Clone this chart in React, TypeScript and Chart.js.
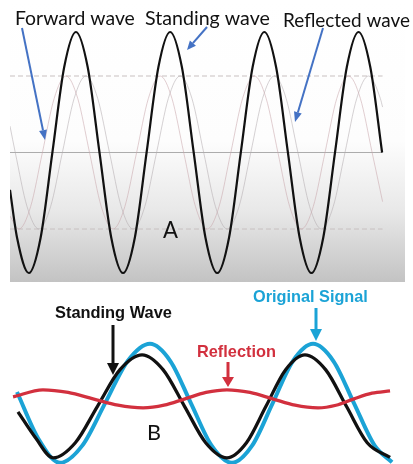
import React, { useEffect, useRef } from "react";
import { Chart, registerables } from "chart.js";
Chart.register(...registerables);

// ---------- Panel A data (x in wavelengths, y in standing-wave amplitudes) ----------
const standingAX = [0, 0.075, 0.2, 0.325, 0.45, 0.575, 0.7, 0.825, 0.95, 1.075, 1.2, 1.325, 1.45, 1.575, 1.7, 1.825, 1.95, 2.075, 2.2, 2.325, 2.45, 2.575, 2.7, 2.825, 2.95, 3.075, 3.2, 3.325, 3.45, 3.575, 3.7, 3.825, 3.95];
const standingAY = [-0.31, -0.707, -1, -0.707, 0, 0.707, 1, 0.707, 0, -0.707, -1, -0.707, 0, 0.707, 1, 0.707, 0, -0.707, -1, -0.707, 0, 0.707, 1, 0.707, 0, -0.707, -1, -0.707, 0, 0.707, 1, 0.707, 0];

const forwardX = [0, 0.094, 0.219, 0.344, 0.469, 0.594, 0.719, 0.844, 0.969, 1.094, 1.219, 1.344, 1.469, 1.594, 1.719, 1.844, 1.969, 2.094, 2.219, 2.344, 2.469, 2.594, 2.719, 2.844, 2.969, 3.094, 3.219, 3.344, 3.469, 3.594, 3.719, 3.844, 3.955];
const forwardY = [-0.528, -0.635, -0.449, 0, 0.449, 0.635, 0.449, 0, -0.449, -0.635, -0.449, 0, 0.449, 0.635, 0.449, 0, -0.449, -0.635, -0.449, 0, 0.449, 0.635, 0.449, 0, -0.449, -0.635, -0.449, 0, 0.449, 0.635, 0.449, 0, -0.408];

const reflectedX = [0, 0.056, 0.181, 0.306, 0.431, 0.556, 0.681, 0.806, 0.931, 1.056, 1.181, 1.306, 1.431, 1.556, 1.681, 1.806, 1.931, 2.056, 2.181, 2.306, 2.431, 2.556, 2.681, 2.806, 2.931, 3.056, 3.181, 3.306, 3.431, 3.556, 3.681, 3.806, 3.931, 3.955];
const reflectedY = [0.219, 0, -0.449, -0.635, -0.449, 0, 0.449, 0.635, 0.449, 0, -0.449, -0.635, -0.449, 0, 0.449, 0.635, 0.449, 0, -0.449, -0.635, -0.449, 0, 0.449, 0.635, 0.449, 0, -0.449, -0.635, -0.449, 0, 0.449, 0.635, 0.449, 0.377];

const refLevelsA = [0.635, 0, -0.635];
const refSpanA = [0, 3.955];

// ---------- Panel B data (x in ms, y in original-signal amplitudes) ----------
const originalX = [1.03, 2.33, 3.63, 4.99, 6.36, 7.72, 9.08, 10.32, 11.56, 12.8, 14.04, 15.27, 16.5, 17.72, 18.95, 20.19, 21.43, 22.67, 23.73];
const originalY = [0.19, -0.6, -1, -0.707, 0, 0.707, 1, 0.707, 0, -0.707, -1, -0.707, 0, 0.707, 1, 0.707, 0, -0.707, -0.99];

const standingBX = [1.09, 2.15, 3.21, 4.56, 5.9, 7.25, 8.6, 9.88, 11.17, 12.45, 13.74, 14.92, 16.1, 17.28, 18.46, 19.72, 20.97, 22.23, 23.61];
const standingBY = [-0.143, -0.58, -0.916, -0.662, -0.05, 0.562, 0.815, 0.562, -0.05, -0.662, -0.916, -0.662, -0.05, 0.562, 0.815, 0.562, -0.05, -0.662, -0.91];

const reflectionX = [0.79, 2.6, 4.12, 5.63, 7.14, 8.66, 9.93, 11.2, 12.47, 13.74, 15.13, 16.5, 17.86, 19.25, 20.34, 21.43, 22.52, 23.61];
const reflectionY = [0.109, 0.227, 0.183, 0.076, -0.032, -0.076, -0.032, 0.076, 0.183, 0.227, 0.183, 0.076, -0.032, -0.076, -0.032, 0.076, 0.17, 0.21];

const labelsA = ["Forward wave", "Standing wave", "Reflected wave", "A"];
const labelsB = ["Standing Wave", "Original Signal", "Reflection", "B"];

// ---------- helpers ----------
const pts = (xs: number[], ys: number[]) => xs.map((x, i) => ({ x, y: ys[i] }));

function fitText(ctx: CanvasRenderingContext2D, text: string, left: number, baseline: number, width: number, weight: string, family: string, color: string) {
  ctx.save();
  ctx.font = `${weight} 20px ${family}`;
  const w = ctx.measureText(text).width;
  const size = (20 * width) / w;
  ctx.font = `${weight} ${size}px ${family}`;
  ctx.fillStyle = color;
  ctx.textAlign = "left";
  ctx.textBaseline = "alphabetic";
  ctx.fillText(text, left, baseline);
  ctx.restore();
}

function arrow(ctx: CanvasRenderingContext2D, x1: number, y1: number, x2: number, y2: number, color: string, lw: number, headLen: number, headW: number) {
  const a = Math.atan2(y2 - y1, x2 - x1);
  const bx = x2 - headLen * Math.cos(a);
  const by = y2 - headLen * Math.sin(a);
  ctx.save();
  ctx.strokeStyle = color;
  ctx.fillStyle = color;
  ctx.lineWidth = lw;
  ctx.beginPath();
  ctx.moveTo(x1, y1);
  ctx.lineTo(bx, by);
  ctx.stroke();
  const px = -Math.sin(a) * headW / 2;
  const py = Math.cos(a) * headW / 2;
  ctx.beginPath();
  ctx.moveTo(x2, y2);
  ctx.lineTo(bx + px, by + py);
  ctx.lineTo(bx - px, by - py);
  ctx.closePath();
  ctx.fill();
  ctx.restore();
}

const BLUE = "#4472C4";
const CYAN = "#1BA3D6";
const RED = "#D2303E";

const panelAPlugin = {
  id: "panelA",
  beforeDraw(chart: any) {
    const { ctx, chartArea: ca } = chart;
    const g = ctx.createLinearGradient(0, ca.top, 0, ca.bottom);
    g.addColorStop(0, "#ffffff");
    g.addColorStop(0.5, "#fdfdfd");
    g.addColorStop(0.75, "#e8e8e8");
    g.addColorStop(1, "#c3c3c3");
    ctx.save();
    ctx.fillStyle = g;
    ctx.fillRect(ca.left, ca.top, ca.right - ca.left, ca.bottom - ca.top);
    ctx.restore();
  },
  afterDraw(chart: any) {
    const ctx = chart.ctx as CanvasRenderingContext2D;
    const fam = "Lato, 'Open Sans', sans-serif";
    fitText(ctx, labelsA[0], 15, 25, 120, "normal", fam, "#111");
    fitText(ctx, labelsA[1], 145, 25, 125, "normal", fam, "#111");
    fitText(ctx, labelsA[2], 283, 27, 127, "normal", fam, "#111");
    fitText(ctx, labelsA[3], 163, 238, 15, "normal", fam, "#111");
    arrow(ctx, 22, 28, 45, 140, BLUE, 2, 10, 8);
    arrow(ctx, 207, 27, 187, 50, BLUE, 2, 9, 8);
    arrow(ctx, 323, 28, 295, 122, BLUE, 2, 10, 8);
  },
};

const panelBPlugin = {
  id: "panelB",
  afterDraw(chart: any) {
    const ctx = chart.ctx as CanvasRenderingContext2D;
    const fam = "'Liberation Sans', Arial, sans-serif";
    fitText(ctx, labelsB[0], 55, 36, 117, "bold", fam, "#111");
    fitText(ctx, labelsB[1], 253, 20, 115, "bold", fam, CYAN);
    fitText(ctx, labelsB[2], 197, 75, 79, "bold", fam, RED);
    fitText(ctx, labelsB[3], 147, 158, 14, "normal", "Lato, sans-serif", "#111");
    arrow(ctx, 113, 43, 113, 93, "#111", 3, 12, 12);
    arrow(ctx, 316, 26, 316, 59, CYAN, 3, 12, 12);
    arrow(ctx, 228, 80, 228, 105, RED, 3, 10, 12);
  },
};

export default function App() {
  const aRef = useRef<HTMLCanvasElement>(null);
  const bRef = useRef<HTMLCanvasElement>(null);

  useEffect(() => {
    const refSets = refLevelsA.map((lv) => ({
      data: refSpanA.map((x) => ({ x, y: lv })),
      borderColor: lv === 0 ? "#acacac" : "#c8c0c0",
      borderWidth: 1,
      borderDash: lv === 0 ? [] : [5, 3],
      pointRadius: 0,
      order: 5,
    }));
    const chartA = new Chart(aRef.current as HTMLCanvasElement, {
      type: "line",
      data: {
        datasets: [
          { data: pts(standingAX, standingAY), borderColor: "#111", borderWidth: 2.2, pointRadius: 0, cubicInterpolationMode: "monotone", order: 0 },
          { data: pts(forwardX, forwardY), borderColor: "rgba(200,165,172,0.55)", borderWidth: 1, pointRadius: 0, cubicInterpolationMode: "monotone", order: 1 },
          { data: pts(reflectedX, reflectedY), borderColor: "rgba(178,172,174,0.55)", borderWidth: 1, pointRadius: 0, cubicInterpolationMode: "monotone", order: 2 },
          ...refSets,
        ] as any,
      },
      options: {
        animation: false,
        responsive: false,
        maintainAspectRatio: false,
        layout: { padding: { left: 10, right: 8, top: 0, bottom: 0 } },
        plugins: { legend: { display: false }, tooltip: { enabled: false } },
        scales: {
          x: { type: "linear", min: 0, max: 4.193, display: false },
          y: { type: "linear", min: -1.0747, max: 1.2656, display: false },
        },
      },
      plugins: [panelAPlugin],
    });

    const chartB = new Chart(bRef.current as HTMLCanvasElement, {
      type: "line",
      data: {
        datasets: [
          { data: pts(reflectionX, reflectionY), borderColor: RED, borderWidth: 3.3, pointRadius: 0, cubicInterpolationMode: "monotone", order: 0 },
          { data: pts(standingBX, standingBY), borderColor: "#111", borderWidth: 3.3, pointRadius: 0, cubicInterpolationMode: "monotone", order: 1 },
          { data: pts(originalX, originalY), borderColor: CYAN, borderWidth: 4, pointRadius: 0, cubicInterpolationMode: "monotone", order: 2 },
        ] as any,
      },
      options: {
        animation: false,
        responsive: false,
        maintainAspectRatio: false,
        layout: { padding: 0 },
        plugins: { legend: { display: false }, tooltip: { enabled: false } },
        scales: {
          x: { type: "linear", min: 0, max: 25, display: false },
          y: { type: "linear", min: -1.02, max: 2.04, display: false },
        },
      },
      plugins: [panelBPlugin],
    });

    return () => {
      chartA.destroy();
      chartB.destroy();
    };
  }, []);

  return (
    <div style={{ position: "absolute", left: 0, top: 0, width: 413, height: 464, background: "#fff", overflow: "hidden" }}>
      <canvas ref={aRef} width={413} height={282} style={{ position: "absolute", left: 0, top: 0, width: 413, height: 282 }} />
      <canvas ref={bRef} width={413} height={182} style={{ position: "absolute", left: 0, top: 282, width: 413, height: 182 }} />
    </div>
  );
}
